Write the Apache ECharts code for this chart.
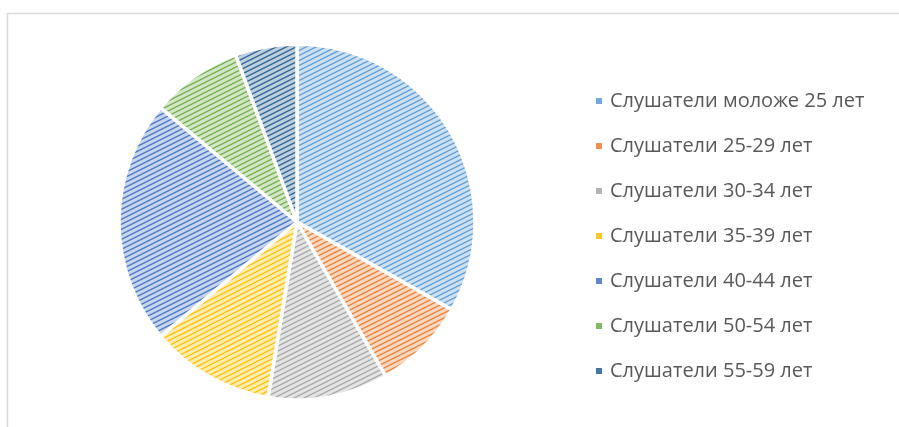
<!DOCTYPE html>
<html><head><meta charset="utf-8">
<script src="https://cdn.jsdelivr.net/npm/echarts@6/dist/echarts.min.js"></script>
<style>html,body{margin:0;padding:0;background:#fff}#c{width:899px;height:427px}</style>
</head><body><div id="c"></div>
<script>
const categories = ['Слушатели моложе 25 лет','Слушатели 25-29 лет','Слушатели 30-34 лет','Слушатели 35-39 лет','Слушатели 40-44 лет','Слушатели 50-54 лет','Слушатели 55-59 лет'];
const values = [33.2, 8.5, 10.9, 11.3, 22.2, 8.3, 5.6];
const colors = ['#5B9BD5','#ED7D31','#A5A5A5','#FFC000','#4472C4','#70AD47','#255E91'];

function hexToRgb(h){return [parseInt(h.slice(1,3),16),parseInt(h.slice(3,5),16),parseInt(h.slice(5,7),16)];}
function mixColor(hex,t){const [r,gg,b]=hexToRgb(hex);return `rgb(${Math.round(255+(r-255)*t)},${Math.round(255+(gg-255)*t)},${Math.round(255+(b-255)*t)})`;}
function makePattern(hex){
  const W=10,H=5;
  const c=document.createElement('canvas');c.width=W;c.height=H;
  const g=c.getContext('2d');
  g.fillStyle=mixColor(hex,0.3);g.fillRect(0,0,W,H);
  g.strokeStyle=mixColor(hex,0.95);g.lineWidth=1.4;
  g.beginPath();
  g.moveTo(-W,2*H);g.lineTo(2*W,-H);
  g.moveTo(0,2*H);g.lineTo(2*W,0);
  g.moveTo(-W,H);g.lineTo(W,-H);
  g.stroke();
  return {image:c,repeat:'repeat'};
}
const chart=echarts.init(document.getElementById('c'),null,{renderer:'canvas'});
chart.setOption({
  animation:false,
  graphic:[{type:'rect',shape:{x:7.5,y:13.5,width:1000,height:1000},style:{fill:'none',stroke:'#d9d9d9',lineWidth:1.5},silent:true}],
  legend:{orient:'vertical',left:589,top:86,itemWidth:8,itemHeight:8,itemGap:25,icon:'rect',
    textStyle:{color:'#595959',fontSize:20,fontFamily:'Open Sans',lineHeight:20,padding:[0,0,0,2]},
    data:categories.map((n,i)=>({name:n,itemStyle:{color:mixColor(colors[i],0.85)}}))},
  series:[{type:'pie',center:[297,222],radius:178,startAngle:90,clockwise:true,label:{show:false},labelLine:{show:false},
    itemStyle:{borderColor:'#fff',borderWidth:3.5},
    emphasis:{disabled:true},
    data:categories.map((n,i)=>({name:n,value:values[i],itemStyle:{color:makePattern(colors[i])}}))}]
});
</script></body></html>
